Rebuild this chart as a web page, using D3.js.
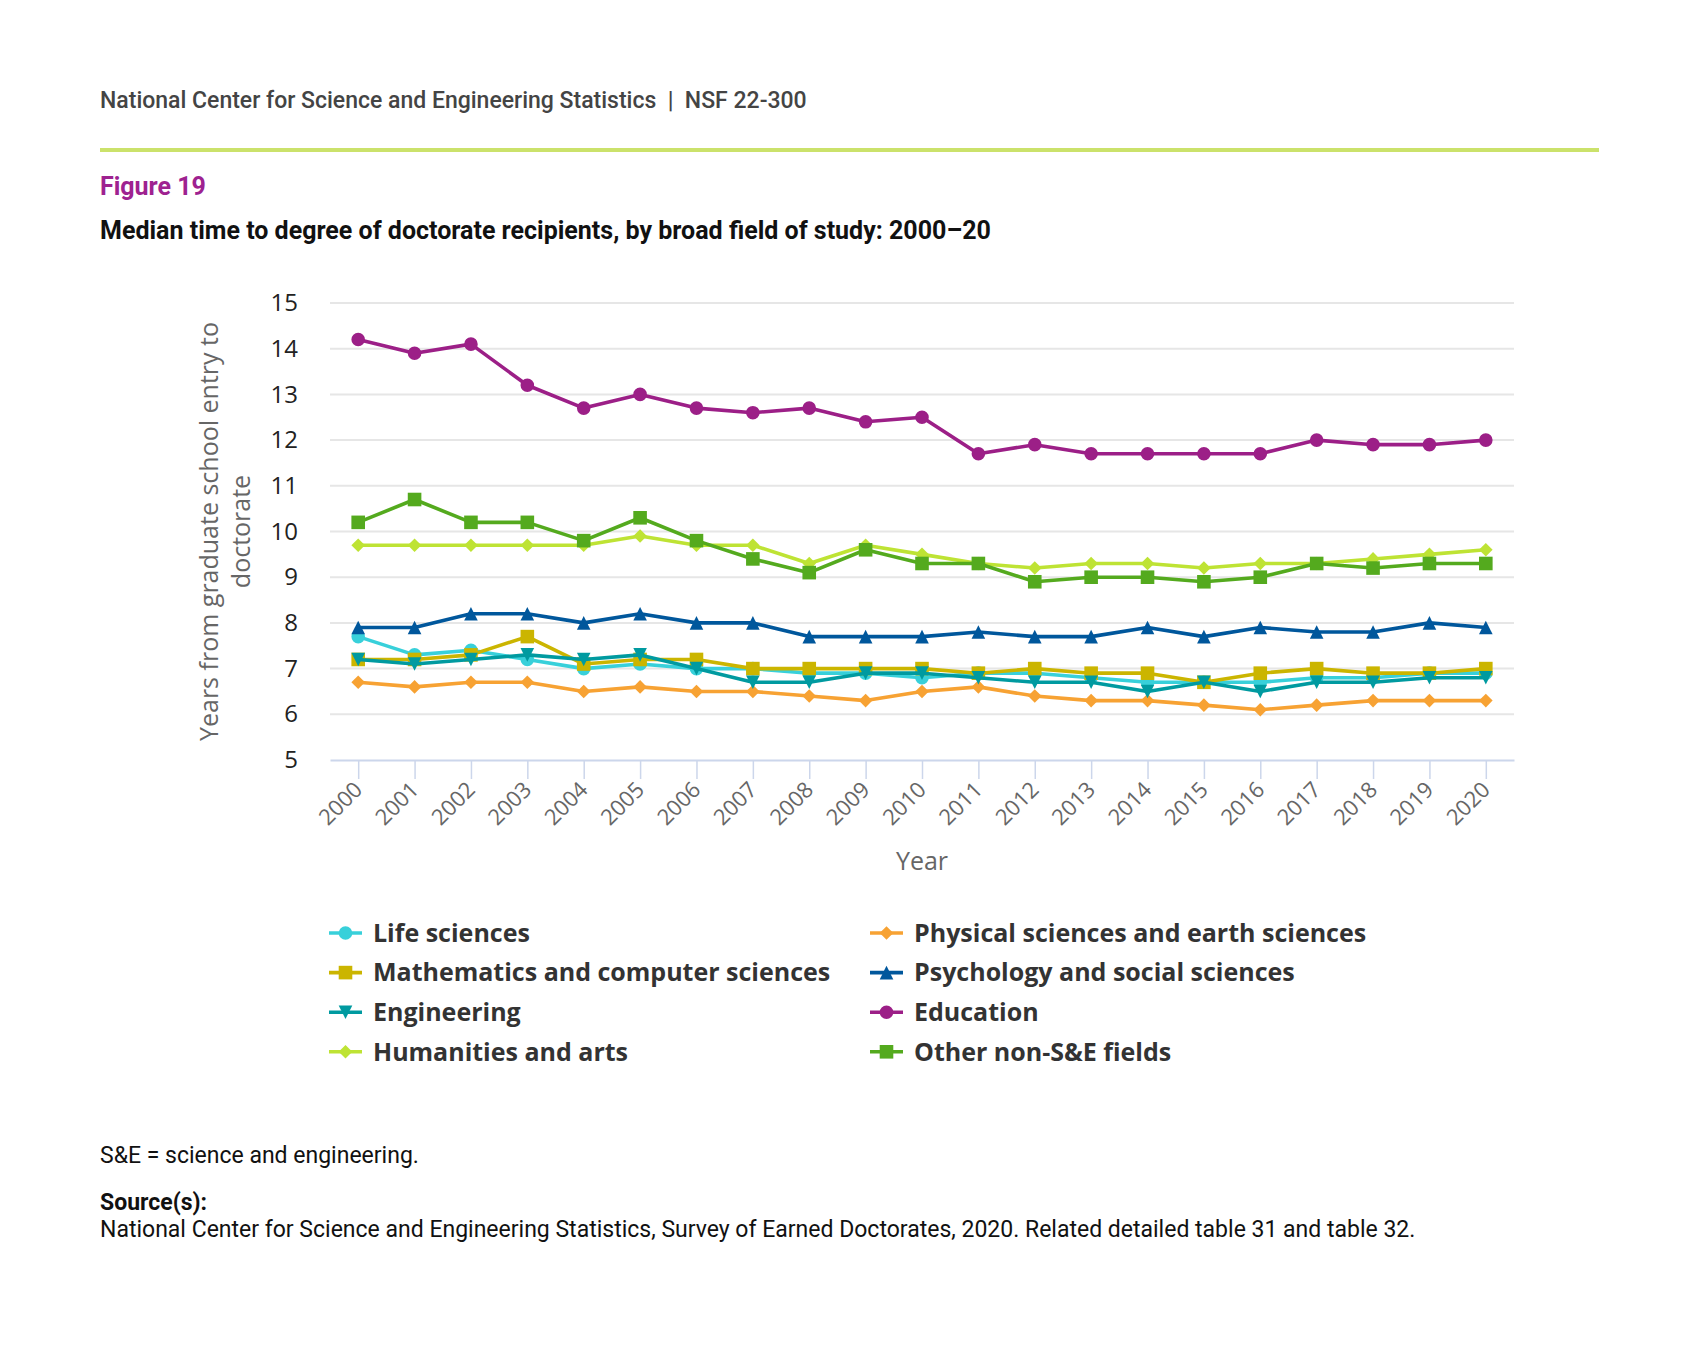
<!DOCTYPE html>
<html>
<head>
<meta charset="utf-8">
<script src="https://cdn.jsdelivr.net/npm/d3@7"></script>
<style>
  body { margin: 0; background: #fff; }
  svg { display: block; }
  text { white-space: pre; }
</style>
</head>
<body>
<div id="chart"></div>
<script>
// Data
var years = [2000, 2001, 2002, 2003, 2004, 2005, 2006, 2007, 2008, 2009, 2010,
             2011, 2012, 2013, 2014, 2015, 2016, 2017, 2018, 2019, 2020];

var lifeSciences = [7.7, 7.3, 7.4, 7.2, 7.0, 7.1, 7.0, 7.0, 6.9, 6.9, 6.8, 6.9, 6.9, 6.8, 6.7, 6.7, 6.7, 6.8, 6.8, 6.9, 6.9];
var physicalSciences = [6.7, 6.6, 6.7, 6.7, 6.5, 6.6, 6.5, 6.5, 6.4, 6.3, 6.5, 6.6, 6.4, 6.3, 6.3, 6.2, 6.1, 6.2, 6.3, 6.3, 6.3];
var mathComputer = [7.2, 7.2, 7.3, 7.7, 7.1, 7.2, 7.2, 7.0, 7.0, 7.0, 7.0, 6.9, 7.0, 6.9, 6.9, 6.7, 6.9, 7.0, 6.9, 6.9, 7.0];
var psychologySocial = [7.9, 7.9, 8.2, 8.2, 8.0, 8.2, 8.0, 8.0, 7.7, 7.7, 7.7, 7.8, 7.7, 7.7, 7.9, 7.7, 7.9, 7.8, 7.8, 8.0, 7.9];
var engineering = [7.2, 7.1, 7.2, 7.3, 7.2, 7.3, 7.0, 6.7, 6.7, 6.9, 6.9, 6.8, 6.7, 6.7, 6.5, 6.7, 6.5, 6.7, 6.7, 6.8, 6.8];
var education = [14.2, 13.9, 14.1, 13.2, 12.7, 13.0, 12.7, 12.6, 12.7, 12.4, 12.5, 11.7, 11.9, 11.7, 11.7, 11.7, 11.7, 12.0, 11.9, 11.9, 12.0];
var humanitiesArts = [9.7, 9.7, 9.7, 9.7, 9.7, 9.9, 9.7, 9.7, 9.3, 9.7, 9.5, 9.3, 9.2, 9.3, 9.3, 9.2, 9.3, 9.3, 9.4, 9.5, 9.6];
var otherNonSE = [10.2, 10.7, 10.2, 10.2, 9.8, 10.3, 9.8, 9.4, 9.1, 9.6, 9.3, 9.3, 8.9, 9.0, 9.0, 8.9, 9.0, 9.3, 9.2, 9.3, 9.3];

var seriesNames = ['Life sciences', 'Physical sciences and earth sciences',
                   'Mathematics and computer sciences', 'Psychology and social sciences',
                   'Engineering', 'Education', 'Humanities and arts', 'Other non-S&E fields'];
var seriesValues = [lifeSciences, physicalSciences, mathComputer, psychologySocial,
                    engineering, education, humanitiesArts, otherNonSE];
var seriesColors = ['#38d0da', '#f7a233', '#cbb500', '#00579c',
                    '#009aa0', '#9c1f87', '#bee334', '#54aa1e'];
var seriesSymbols = ['circle', 'diamond', 'square', 'triangle',
                     'triangle-down', 'circle', 'diamond', 'square'];

var yTicks = [5, 6, 7, 8, 9, 10, 11, 12, 13, 14, 15];

// Layout constants
var WIDTH = 1699,
    HEIGHT = 1353,
    PLOT_LEFT = 330,
    PLOT_RIGHT = 1514,
    PLOT_TOP = 303,
    PLOT_BOTTOM = 760,
    MARKER_R = 6.8,
    LINE_WIDTH = 3.6;

var COLORS = {
  TEXT: '#333333',
  HEADER: '#444444',
  FIGURE: '#9e2290',
  RULE: '#cbe26b',
  GRID: '#e6e6e6',
  AXIS: '#ccd6eb',
  AXIS_TEXT: '#666666'
};

var svg = d3.select('#chart')
  .append('svg')
  .attr('width', WIDTH)
  .attr('height', HEIGHT);

svg.append('rect')
  .attr('width', WIDTH)
  .attr('height', HEIGHT)
  .attr('fill', '#fff');

// Header block
svg.append('text')
  .attr('x', 100)
  .attr('y', 108)
  .attr('font-family', 'Roboto')
  .attr('font-weight', 500)
  .attr('font-size', '23px')
  .attr('fill', COLORS.HEADER)
  .text('National Center for Science and Engineering Statistics  |  NSF 22-300');

svg.append('rect')
  .attr('x', 100)
  .attr('y', 148)
  .attr('width', 1499)
  .attr('height', 4)
  .attr('fill', COLORS.RULE);

svg.append('text')
  .attr('x', 100)
  .attr('y', 195)
  .attr('font-family', 'Roboto')
  .attr('font-weight', 700)
  .attr('font-size', '25px')
  .attr('fill', COLORS.FIGURE)
  .text('Figure 19');

svg.append('text')
  .attr('x', 100)
  .attr('y', 239)
  .attr('font-family', 'Roboto')
  .attr('font-weight', 700)
  .attr('font-size', '25px')
  .attr('fill', '#111')
  .text('Median time to degree of doctorate recipients, by broad field of study: 2000\u201320');

// Scales
var x = d3.scalePoint()
  .domain(years)
  .range([PLOT_LEFT, PLOT_RIGHT])
  .padding(0.5);

var y = d3.scaleLinear()
  .domain([5, 15])
  .range([PLOT_BOTTOM, PLOT_TOP]);

// Gridlines
svg.append('g')
  .selectAll('line')
  .data(yTicks.slice(1))
  .enter().append('line')
  .attr('x1', PLOT_LEFT)
  .attr('x2', PLOT_RIGHT)
  .attr('y1', function(d) { return y(d); })
  .attr('y2', function(d) { return y(d); })
  .attr('stroke', COLORS.GRID)
  .attr('stroke-width', 2);

// Y axis labels
var yAxis = svg.append('g')
  .attr('transform', 'translate(' + PLOT_LEFT + ',0)')
  .call(d3.axisLeft(y).tickValues(yTicks).tickSize(0).tickPadding(32));
yAxis.select('.domain').remove();
yAxis.selectAll('text')
  .attr('font-family', 'Open Sans')
  .attr('font-size', '24px')
  .attr('fill', '#222');

// X axis
var xAxis = svg.append('g')
  .attr('transform', 'translate(0,' + PLOT_BOTTOM + ')')
  .call(d3.axisBottom(x).tickSize(19).tickSizeOuter(0));
xAxis.select('.domain')
  .attr('stroke', COLORS.AXIS)
  .attr('stroke-width', 2);
xAxis.selectAll('.tick line')
  .attr('stroke', COLORS.AXIS)
  .attr('stroke-width', 1.5);
xAxis.selectAll('.tick text')
  .attr('font-family', 'Open Sans')
  .attr('font-size', '22px')
  .attr('fill', COLORS.AXIS_TEXT)
  .attr('text-anchor', 'end')
  .attr('dy', null)
  .attr('y', null)
  .attr('transform', 'translate(5,31) rotate(-45)');

// Axis titles
svg.append('text')
  .attr('x', (PLOT_LEFT + PLOT_RIGHT) / 2)
  .attr('y', 870)
  .attr('text-anchor', 'middle')
  .attr('font-family', 'Open Sans')
  .attr('font-size', '25px')
  .attr('fill', COLORS.AXIS_TEXT)
  .text('Year');

var yTitle = svg.append('text')
  .attr('transform', 'translate(226,' + ((PLOT_TOP + PLOT_BOTTOM) / 2) + ') rotate(-90)')
  .attr('text-anchor', 'middle')
  .attr('font-family', 'Open Sans')
  .attr('font-size', '25px')
  .attr('fill', COLORS.AXIS_TEXT);
yTitle.append('tspan').attr('x', 0).attr('dy', '-8').text('Years from graduate school entry to');
yTitle.append('tspan').attr('x', 0).attr('dy', '32').text('doctorate');

// Marker shapes, drawn in a box of side 2r centred on (0, 0)
function symbolPath(type, r) {
  switch (type) {
    case 'circle':
      return 'M' + (-r) + ',0A' + r + ',' + r + ' 0 1,0 ' + r + ',0A' + r + ',' + r + ' 0 1,0 ' + (-r) + ',0Z';
    case 'square':
      return 'M' + (-r) + ',' + (-r) + 'H' + r + 'V' + r + 'H' + (-r) + 'Z';
    case 'diamond':
      return 'M0,' + (-r) + 'L' + r + ',0L0,' + r + 'L' + (-r) + ',0Z';
    case 'triangle':
      return 'M0,' + (-r) + 'L' + r + ',' + r + 'L' + (-r) + ',' + r + 'Z';
    case 'triangle-down':
      return 'M' + (-r) + ',' + (-r) + 'L' + r + ',' + (-r) + 'L0,' + r + 'Z';
  }
}

var line = d3.line()
  .x(function(d, i) { return x(years[i]); })
  .y(function(d) { return y(d); });

// Series lines and markers
var series = svg.append('g')
  .selectAll('g')
  .data(seriesValues)
  .enter().append('g');

series.append('path')
  .attr('d', function(d) { return line(d); })
  .attr('fill', 'none')
  .attr('stroke', function(d, i) { return seriesColors[i]; })
  .attr('stroke-width', LINE_WIDTH)
  .attr('stroke-linejoin', 'round')
  .attr('stroke-linecap', 'round');

series.each(function(vals, s) {
  d3.select(this).selectAll('path.marker')
    .data(vals)
    .enter().append('path')
    .attr('class', 'marker')
    .attr('d', symbolPath(seriesSymbols[s], MARKER_R))
    .attr('transform', function(d, i) { return 'translate(' + x(years[i]) + ',' + y(d) + ')'; })
    .attr('fill', seriesColors[s]);
});

// Legend, two columns
var legend = svg.append('g')
  .selectAll('g')
  .data(seriesNames)
  .enter().append('g')
  .attr('transform', function(d, i) {
    var col = i % 2, row = Math.floor(i / 2);
    return 'translate(' + (col === 0 ? 329 : 870) + ',' + (933 + row * 39.6) + ')';
  });

legend.append('line')
  .attr('x1', 0)
  .attr('x2', 33)
  .attr('stroke', function(d, i) { return seriesColors[i]; })
  .attr('stroke-width', LINE_WIDTH);

legend.append('path')
  .attr('transform', 'translate(16.5,0)')
  .attr('d', function(d, i) { return symbolPath(seriesSymbols[i], MARKER_R); })
  .attr('fill', function(d, i) { return seriesColors[i]; });

legend.append('text')
  .attr('x', 44)
  .attr('dy', '0.35em')
  .attr('font-family', 'Open Sans')
  .attr('font-weight', 700)
  .attr('font-size', '25px')
  .attr('fill', COLORS.TEXT)
  .text(function(d) { return d; });

// Notes
svg.append('text')
  .attr('x', 100)
  .attr('y', 1163)
  .attr('font-family', 'Roboto')
  .attr('font-size', '23px')
  .attr('fill', '#111')
  .text('S&E = science and engineering.');

svg.append('text')
  .attr('x', 100)
  .attr('y', 1210)
  .attr('font-family', 'Roboto')
  .attr('font-weight', 700)
  .attr('font-size', '23px')
  .attr('fill', '#111')
  .text('Source(s):');

svg.append('text')
  .attr('x', 100)
  .attr('y', 1237)
  .attr('font-family', 'Roboto')
  .attr('font-size', '23px')
  .attr('fill', '#111')
  .text('National Center for Science and Engineering Statistics, Survey of Earned Doctorates, 2020. Related detailed table 31 and table 32.');
</script>
</body>
</html>
